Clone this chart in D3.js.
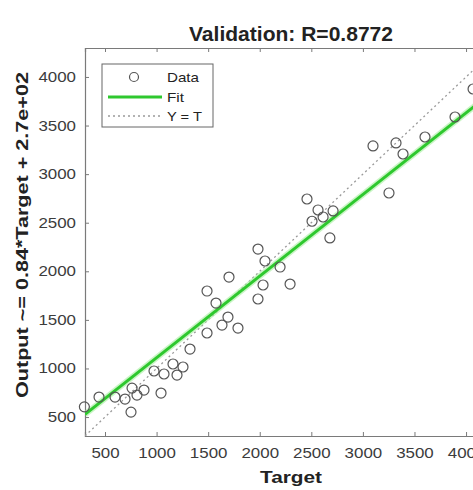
<!DOCTYPE html>
<html><head><meta charset="utf-8">
<script src="https://cdn.jsdelivr.net/npm/d3@7"></script>
<style>body{margin:0;background:#fff;overflow:hidden}svg{display:block}</style>
</head><body>
<script>
const titleText = "Validation: R=0.8772";
const xLabel = "Target";
const yLabel = "Output ~= 0.84*Target + 2.7e+02";
const tickValues = [500,1000,1500,2000,2500,3000,3500,4000];
const fitSlope = 0.84, fitIntercept = 270;
const targets = [300,442,597,694,762,810,878,752,975,1043,1072,1159,1198,1256,1324,
  1489,1634,1789,1692,1576,1983,1489,1702,2032,2294,1983,2051,2197,2507,2680,
  2458,2565,2614,2711,3098,3253,3321,3389,3602,3893,4068];
const outputs = [605,706,706,685,798,726,778,551,974,747,943,1046,932,1015,1200,
  1365,1447,1416,1529,1673,1715,1797,1941,1859,1869,2229,2106,2044,2515,2343,
  2744,2631,2559,2621,3290,2806,3321,3207,3382,3588,3876];
const legendLabels = ["Data","Fit","Y = T"];

const W=473,H=490;
const svg=d3.select("body").append("svg").attr("width",W).attr("height",H);
const L=85,T=48,B=436,R=497;
const x=d3.scaleLinear().domain([306,4300]).range([L,R]);
const y=d3.scaleLinear().domain([305,4298]).range([B,T]);
const font="'Liberation Sans', Arial, Helvetica, sans-serif";

svg.append("defs").append("clipPath").attr("id","clip").append("rect")
  .attr("x",L).attr("y",T).attr("width",R-L).attr("height",B-T);

const axCol="#7a7a7a", txtCol="#3c3c3c";
const gx=svg.append("g").attr("transform",`translate(0,${B})`)
  .call(d3.axisBottom(x).tickValues(tickValues).tickSize(-4).tickPadding(12).tickFormat(d3.format("d")));
const gxt=svg.append("g").attr("transform",`translate(0,${T})`)
  .call(d3.axisTop(x).tickValues(tickValues).tickSize(-4).tickFormat(""));
const gy=svg.append("g").attr("transform",`translate(${L},0)`)
  .call(d3.axisLeft(y).tickValues(tickValues).tickSize(-4).tickPadding(9).tickFormat(d3.format("d")));
const gyr=svg.append("g").attr("transform",`translate(${R},0)`)
  .call(d3.axisRight(y).tickValues(tickValues).tickSize(-4).tickFormat(""));
[gx,gxt,gy,gyr].forEach(g=>{
  g.select(".domain").attr("stroke",axCol).attr("stroke-width",1.2);
  g.selectAll(".tick line").attr("stroke",axCol);
  g.selectAll(".tick text").attr("fill",txtCol).style("font-family",font).style("font-size","14px")
    .attr("textLength",function(){return this.textContent.length*9.4;})
    .attr("lengthAdjust","spacingAndGlyphs");
});

const plot=svg.append("g").attr("clip-path","url(#clip)");
plot.append("line").attr("x1",x(306)).attr("y1",y(306)).attr("x2",x(4300)).attr("y2",y(4300))
  .attr("stroke","#9a9a9a").attr("stroke-width",1.3).attr("stroke-dasharray","2,3");
plot.append("line").attr("x1",x(306)).attr("y1",y(fitSlope*306+fitIntercept))
  .attr("x2",x(4300)).attr("y2",y(fitSlope*4300+fitIntercept))
  .attr("stroke","#a8f0a0").attr("stroke-width",6).attr("opacity",0.6);
plot.append("line").attr("x1",x(306)).attr("y1",y(fitSlope*306+fitIntercept))
  .attr("x2",x(4300)).attr("y2",y(fitSlope*4300+fitIntercept))
  .attr("stroke","#2ec82e").attr("stroke-width",3);
svg.append("g").selectAll("circle").data(targets.map((t,i)=>[t,outputs[i]])).join("circle")
  .attr("cx",d=>x(d[0])).attr("cy",d=>y(d[1])).attr("r",5)
  .attr("fill","none").attr("stroke","#555").attr("stroke-width",1.2);

svg.append("text").attr("x",291).attr("y",41).attr("text-anchor","middle")
  .attr("textLength",204).attr("lengthAdjust","spacingAndGlyphs")
  .style("font-family",font).style("font-weight","bold").style("font-size","19.5px").attr("fill","#222").text(titleText);
svg.append("text").attr("x",291).attr("y",483).attr("text-anchor","middle")
  .attr("textLength",62).attr("lengthAdjust","spacingAndGlyphs")
  .style("font-family",font).style("font-weight","bold").style("font-size","17px").attr("fill","#222").text(xLabel);
svg.append("text").attr("transform","translate(28,235) rotate(-90)").attr("text-anchor","middle")
  .attr("textLength",326).attr("lengthAdjust","spacingAndGlyphs")
  .style("font-family",font).style("font-weight","bold").style("font-size","17px").attr("fill","#222").text(yLabel);

const lg=svg.append("g");
lg.append("rect").attr("x",102).attr("y",64).attr("width",111).attr("height",63)
  .attr("fill","#fff").attr("stroke","#666").attr("stroke-width",1);
const ly=[77,97,116];
const lw=[32,17,35];
lg.append("circle").attr("cx",134).attr("cy",ly[0]).attr("r",4.5).attr("fill","none").attr("stroke","#555").attr("stroke-width",1.2);
lg.append("line").attr("x1",108).attr("x2",162).attr("y1",ly[1]).attr("y2",ly[1]).attr("stroke","#2ec82e").attr("stroke-width",3);
lg.append("line").attr("x1",108).attr("x2",162).attr("y1",ly[2]).attr("y2",ly[2]).attr("stroke","#9a9a9a").attr("stroke-width",1.3).attr("stroke-dasharray","2,3");
legendLabels.forEach((s,i)=>lg.append("text").attr("x",167).attr("y",ly[i]+5).style("font-family",font)
  .attr("textLength",lw[i]).attr("lengthAdjust","spacingAndGlyphs")
  .style("font-size","13.5px").attr("fill","#222").text(s));
</script>
</body></html>
